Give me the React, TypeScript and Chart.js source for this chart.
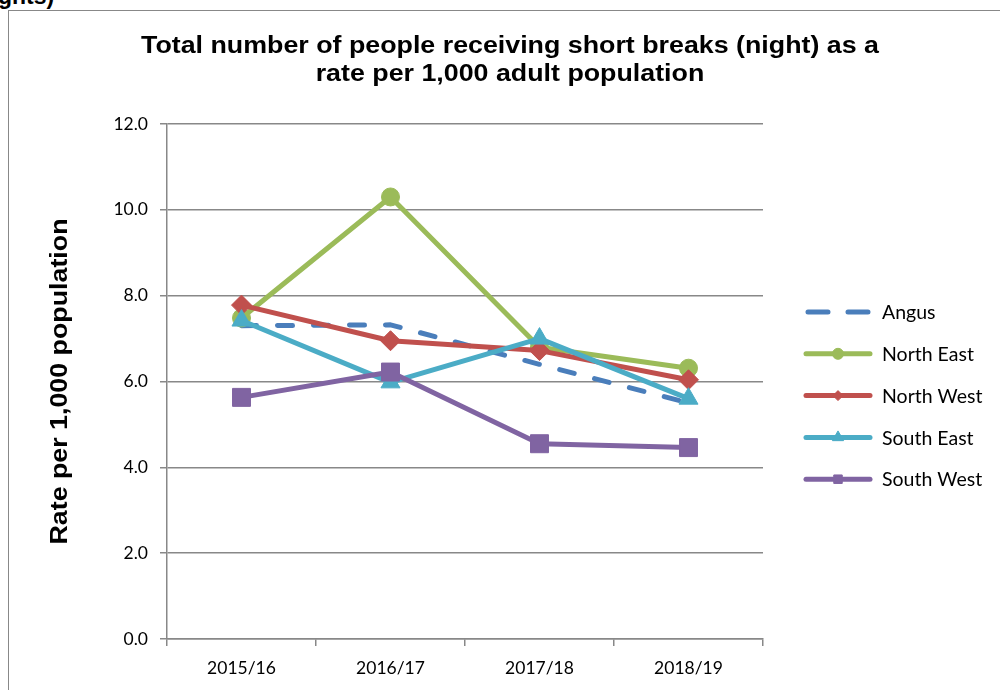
import React, { useEffect, useRef } from "react";
import { Chart, registerables } from "chart.js";
import { drawPoint } from "chart.js/helpers";

Chart.register(...registerables);

const categories = ["2015/16", "2016/17", "2017/18", "2018/19"];
const seriesNames = ["Angus", "North East", "North West", "South East", "South West"];
const angus = [7.3, 7.32, 6.4, 5.5];
const northEast = [7.48, 10.3, 6.8, 6.31];
const northWest = [7.78, 6.95, 6.72, 6.04];
const southEast = [7.42, 5.98, 7.0, 5.6];
const southWest = [5.63, 6.22, 4.55, 4.46];
const seriesColors = ["#4a7ebb", "#9bbb59", "#c0504d", "#4bacc6", "#8064a2"];
const seriesMarkers = ["", "circle", "rectRot", "triangle", "rect"];
const markerRadii = [0, 9, 10, 11, 12.7];
const legendMarkerRadii = [0, 5.5, 5, 6.5, 6];
const titleLines = [
  "Total number of people receiving short breaks (night) as a",
  "rate per 1,000 adult population",
];
const yAxisTitle = "Rate per 1,000 population";

const TEXT_STRETCH = 1.165;

const titlePlugin = {
  id: "customTitle",
  afterDraw(chart: any) {
    const ctx = chart.ctx;
    ctx.save();
    ctx.fillStyle = "#000";
    ctx.font = "bold 23px 'Liberation Sans', Arial, sans-serif";
    ctx.textAlign = "center";
    ctx.textBaseline = "middle";
    ctx.save();
    ctx.translate(510, 47);
    ctx.scale(TEXT_STRETCH, 1);
    ctx.fillText(titleLines[0], 0, 0);
    ctx.restore();
    ctx.save();
    ctx.translate(510, 75);
    ctx.scale(TEXT_STRETCH, 1);
    ctx.fillText(titleLines[1], 0, 0);
    ctx.restore();
    const area = chart.chartArea;
    ctx.save();
    ctx.translate(61, (area.top + area.bottom) / 2);
    ctx.rotate(-Math.PI / 2);
    ctx.scale(TEXT_STRETCH, 1);
    ctx.fillText(yAxisTitle, 0, 0);
    ctx.restore();
    ctx.restore();
  },
};

const legendPlugin = {
  id: "customLegend",
  afterDraw(chart: any) {
    const ctx = chart.ctx;
    const x0 = 806;
    const x1 = 870;
    const startY = 312;
    const gap = 41.8;
    chart.data.datasets.forEach((ds: any, i: number) => {
      const y = startY + i * gap;
      ctx.save();
      ctx.strokeStyle = ds.borderColor;
      ctx.lineWidth = 5;
      ctx.lineCap = "round";
      ctx.beginPath();
      if (ds.borderDash && ds.borderDash.length) {
        ctx.moveTo(x0 + 2, y);
        ctx.lineTo(x0 + 22, y);
        ctx.moveTo(x1 - 22, y);
        ctx.lineTo(x1 - 2, y);
      } else {
        ctx.moveTo(x0, y);
        ctx.lineTo(x1, y);
      }
      ctx.stroke();
      ctx.restore();
      if (legendMarkerRadii[i] > 0) {
        ctx.save();
        ctx.fillStyle = ds.borderColor;
        ctx.strokeStyle = ds.borderColor;
        ctx.lineWidth = 1;
        drawPoint(ctx, { pointStyle: ds.pointStyle, radius: legendMarkerRadii[i], borderWidth: 1, rotation: 0 } as any, (x0 + x1) / 2, y);
        ctx.restore();
      }
      ctx.save();
      ctx.fillStyle = "#000";
      ctx.font = "19.5px Lato, 'Open Sans', sans-serif";
      ctx.textAlign = "left";
      ctx.textBaseline = "middle";
      ctx.fillText(ds.label, 882, y + 1);
      ctx.restore();
    });
  },
};

export default function App() {
  const canvasRef = useRef<HTMLCanvasElement | null>(null);

  useEffect(() => {
    if (!canvasRef.current) return;
    const values = [angus, northEast, northWest, southEast, southWest];
    const datasets = values.map((data, i) => ({
      label: seriesNames[i],
      data,
      borderColor: seriesColors[i],
      backgroundColor: seriesColors[i],
      borderWidth: 5,
      borderDash: i === 0 ? [15, 21] : [],
      borderCapStyle: i === 0 ? "round" : "butt",
      borderJoinStyle: "round",
      pointStyle: seriesMarkers[i] || "circle",
      pointRadius: markerRadii[i],
      pointBorderWidth: 1,
      pointHoverRadius: 0,
      tension: 0,
      fill: false,
      order: values.length - i,
    }));

    const chart = new Chart(canvasRef.current, {
      type: "line",
      data: { labels: categories, datasets },
      plugins: [titlePlugin, legendPlugin],
      options: {
        animation: false,
        responsive: false,
        maintainAspectRatio: false,
        layout: { padding: { left: 20, top: 124, right: 237, bottom: 0 } },
        plugins: {
          legend: { display: false },
          title: { display: false },
          tooltip: { enabled: false },
        },
        scales: {
          x: {
            offset: true,
            grid: {
              display: true,
              offset: true,
              drawOnChartArea: false,
              drawTicks: true,
              tickLength: 7,
              color: "#888",
              lineWidth: 1.5,
            },
            border: { display: true, color: "#888", width: 1.5 },
            ticks: {
              color: "#000",
              font: { family: "Lato, 'Open Sans', sans-serif", size: 17.5 },
              padding: 12,
            },
            afterFit(scale: any) {
              scale.height = 51;
            },
          },
          y: {
            min: 0,
            max: 12,
            ticks: {
              stepSize: 2,
              color: "#000",
              font: { family: "Lato, 'Open Sans', sans-serif", size: 17.5 },
              padding: 12,
              callback: (v: any) => Number(v).toFixed(1),
            },
            grid: { color: "#888", lineWidth: 1.5, tickLength: 7 },
            border: { display: true, color: "#888", width: 1.5 },
            afterFit(scale: any) {
              scale.width = 147;
            },
          },
        },
      } as any,
    });
    return () => chart.destroy();
  }, []);

  return (
    <div style={{ position: "fixed", left: 0, top: 0, width: 1000, height: 690, overflow: "hidden", background: "#fff" }}>
      <div
        style={{
          position: "absolute",
          left: -2,
          top: -17,
          font: "bold 23px 'Liberation Sans', Arial, sans-serif",
          color: "#000",
        }}
      >
        ghts)
      </div>
      <div
        style={{
          position: "absolute",
          left: 8,
          top: 10,
          width: 1100,
          height: 800,
          border: "1.5px solid #888",
          boxSizing: "border-box",
        }}
      />
      <canvas ref={canvasRef} width={1000} height={690} style={{ position: "absolute", left: 0, top: 0 }} />
    </div>
  );
}
